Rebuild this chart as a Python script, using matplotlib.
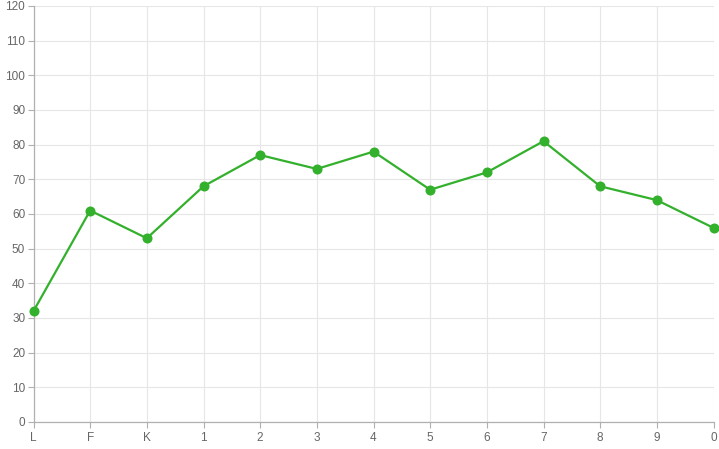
import matplotlib
matplotlib.use("Agg")
import matplotlib.pyplot as plt

plt.rcParams['font.family'] = ['Liberation Sans', 'DejaVu Sans']

# categories and values
categories = ["L", "F", "K", "1", "2", "3", "4", "5", "6", "7", "8", "9", "0"]
values = [32, 61, 53, 68, 77, 73, 78, 67, 72, 81, 68, 64, 56]
y_ticks = list(range(0, 121, 10))

fig = plt.figure(figsize=(7.19, 4.49), dpi=100)
ax = fig.add_axes([33.5 / 719, 27 / 449, 680 / 719, 416 / 449])

x = list(range(len(categories)))
ax.plot(x, values, color="#33b02c", linewidth=1.6, marker="o",
        markersize=6.2, markerfacecolor="#33b02c", markeredgecolor="#33b02c",
        zorder=3, clip_on=False)

ax.set_xlim(0, len(categories) - 1)
ax.set_ylim(0, 120)
ax.set_xticks(x)
ax.set_xticklabels(categories)
ax.set_yticks(y_ticks)

# light grid, grey axis lines
ax.grid(True, color="#e6e6e6", linewidth=0.8)
ax.set_axisbelow(True)
for side in ["top", "right"]:
    ax.spines[side].set_visible(False)
for side in ["left", "bottom"]:
    ax.spines[side].set_color("#b0b0b0")
    ax.spines[side].set_linewidth(0.9)

ax.tick_params(axis="both", colors="#b0b0b0", labelcolor="#666666",
               labelsize=8.5, length=4, width=0.8)
ax.tick_params(axis="y", pad=2)
ax.tick_params(axis="x", pad=3)

plt.savefig("out.png", dpi=100)
